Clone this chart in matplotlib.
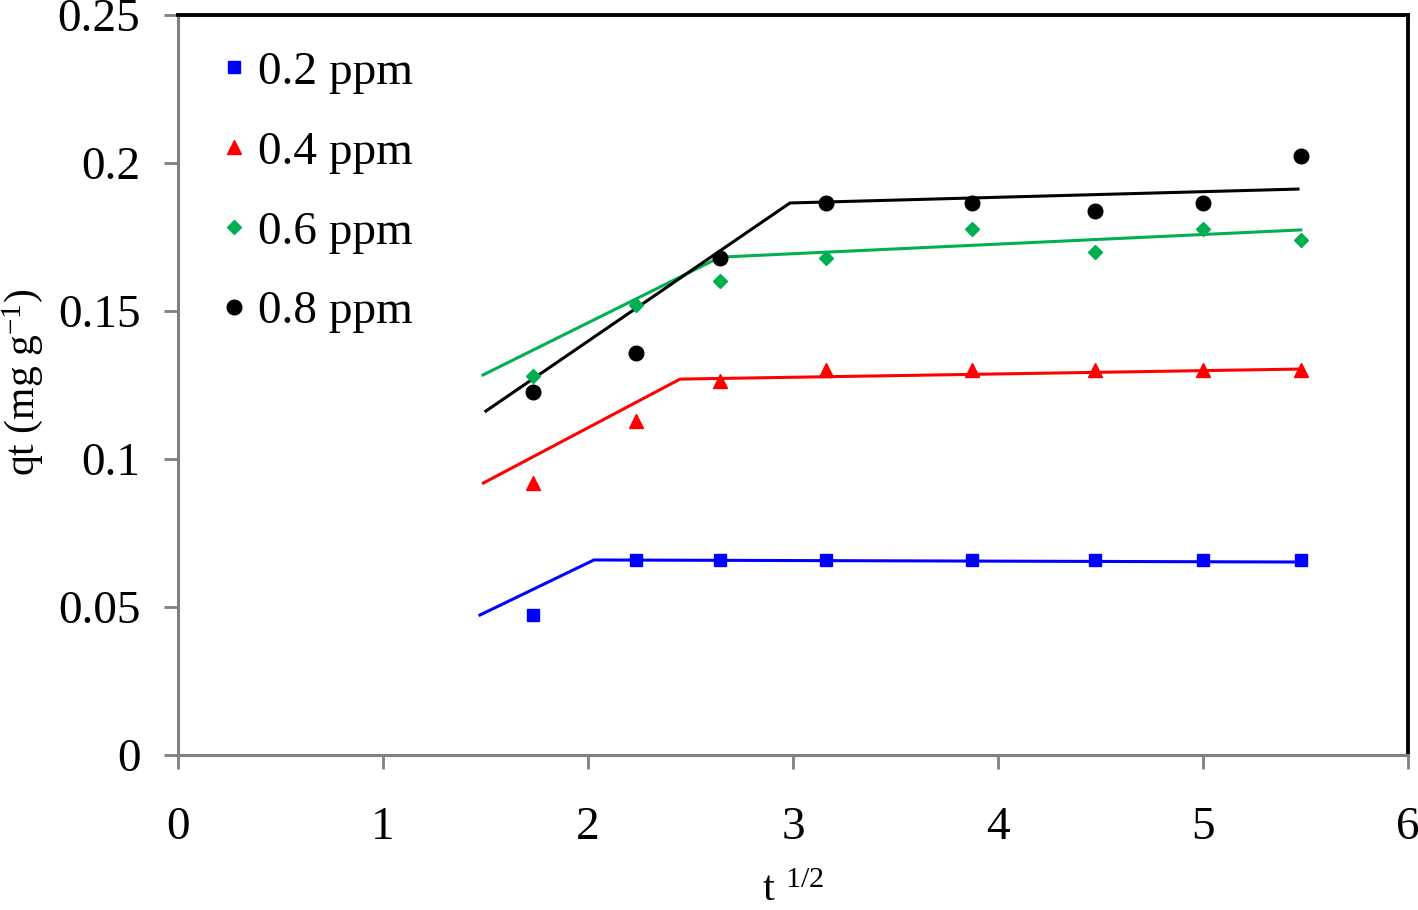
import matplotlib.pyplot as plt

plt.rcParams['font.family'] = ['Liberation Serif', 'DejaVu Serif']
plt.rcParams['mathtext.fontset'] = 'custom'
plt.rcParams['mathtext.rm'] = 'Liberation Serif'
plt.rcParams['mathtext.it'] = 'Liberation Serif:italic'

# t^1/2 values
t_half = [1.732, 2.236, 2.646, 3.162, 3.873, 4.472, 5.0, 5.477]

# measured qt (mg/g)
q_02 = [0.0473, 0.0659, 0.0659, 0.0659, 0.0659, 0.0659, 0.0659, 0.0659]
q_04 = [0.0919, 0.1128, 0.1264, 0.1301, 0.1301, 0.1301, 0.1301, 0.1301]
q_06 = [0.128, 0.152, 0.160, 0.168, 0.1777, 0.170, 0.1777, 0.174]
q_08 = [0.1226, 0.1358, 0.168, 0.1865, 0.1865, 0.1838, 0.1865, 0.2024]

# fitted piecewise lines (x, y)
fit_x_02 = [1.473, 2.029, 5.477]
fit_y_02 = [0.0473, 0.0659, 0.0652]
fit_x_04 = [1.49, 2.449, 5.477]
fit_y_04 = [0.0919, 0.127, 0.1304]
fit_x_06 = [1.488, 2.644, 5.477]
fit_y_06 = [0.1284, 0.1682, 0.1774]
fit_x_08 = [1.502, 2.985, 5.463]
fit_y_08 = [0.1162, 0.1865, 0.1912]

fig = plt.figure(figsize=(14.18, 9.10), dpi=100)
ax = fig.add_axes([0.1255, 0.1703, 0.993 - 0.1255, 0.9835 - 0.1703])

ax.plot(fit_x_02, fit_y_02, color="#0000ff", linewidth=2.2)
ax.plot(fit_x_04, fit_y_04, color="#ff0000", linewidth=2.2)
ax.plot(fit_x_06, fit_y_06, color="#00b050", linewidth=2.2)
ax.plot(fit_x_08, fit_y_08, color="black", linewidth=2.2)

ax.plot(t_half, q_02, "s", color="#0000ff", markersize=8.5, label="0.2 ppm")
ax.plot(t_half, q_04, "^", color="#ff0000", markersize=10, label="0.4 ppm")
ax.plot(t_half, q_06, "D", color="#00b050", markersize=7.5, label="0.6 ppm")
ax.plot(t_half, q_08, "o", color="black", markersize=10.5, label="0.8 ppm")

ax.set_xlim(0, 6)
ax.set_ylim(0, 0.25)
ax.set_xticks([0, 1, 2, 3, 4, 5, 6])
ax.set_xticklabels(["0", "1", "2", "3", "4", "5", "6"])
ax.set_yticks([0, 0.05, 0.1, 0.15, 0.2, 0.25])
ax.set_yticklabels(["0", "0.05", "0.1", "0.15", "0.2", "0.25"])

for side in ["left", "bottom"]:
    ax.spines[side].set_color("#808080")
    ax.spines[side].set_linewidth(2.2)
for side in ["top", "right"]:
    ax.spines[side].set_color("black")
    ax.spines[side].set_linewidth(2.8)

ax.tick_params(axis="both", direction="out", length=10, width=2, color="#808080",
               labelsize=34)
ax.tick_params(axis="x", pad=27)
ax.tick_params(axis="y", pad=17)

ax.set_xlabel("t $^{1/2}$", fontsize=31)
ax.set_ylabel("qt (mg g$^{-1}$)", fontsize=30)
ax.xaxis.set_label_coords(0.5, -0.157)
ax.yaxis.set_label_coords(-0.108, 0.503)

ax.legend(loc="upper left", bbox_to_anchor=(0.013, 0.99), frameon=False, fontsize=34,
          handlelength=0.5, handletextpad=0.25, labelspacing=0.78, borderaxespad=0.2)

fig.savefig("out.png", dpi=100)
